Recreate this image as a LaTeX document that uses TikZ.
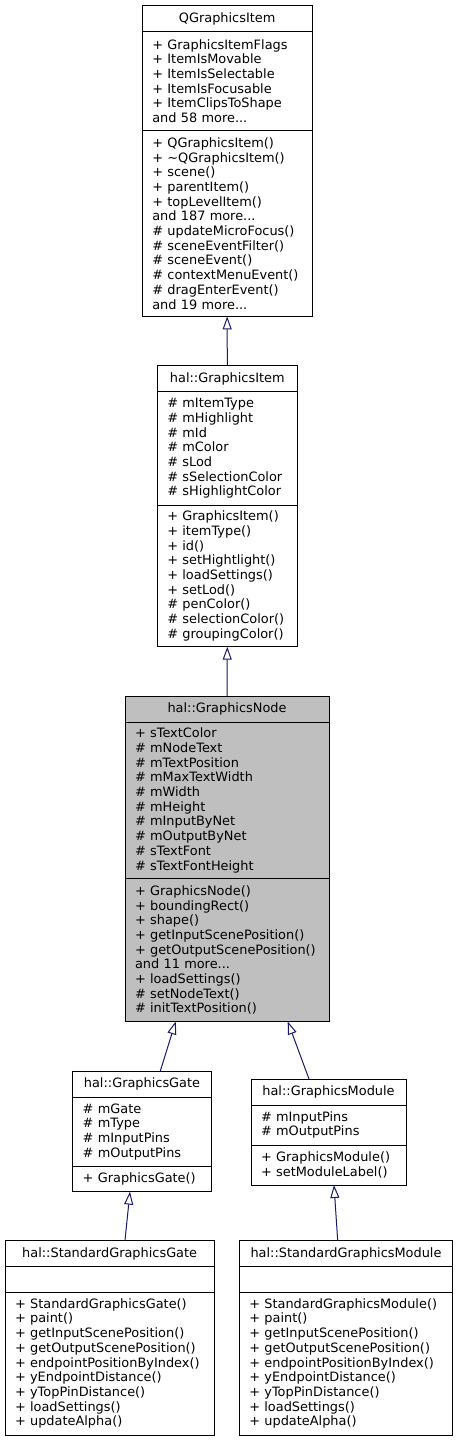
\documentclass[tikz,border=0pt]{standalone}
\usepackage{fontspec}
\setmainfont{DejaVu Sans}
\usetikzlibrary{positioning,arrows.meta}
\definecolor{edgeblue}{RGB}{25,25,112}
\definecolor{curgray}{RGB}{191,191,191}
\newcommand\umlfont{\fontsize{12.9}{14.7}\selectfont\hyphenpenalty=10000\exhyphenpenalty=10000}
\begin{document}
\begin{tikzpicture}[x=1pt,y=-1pt,
  part/.style={draw=black,fill=white,line width=1pt,outer sep=0pt,inner xsep=10pt,inner ysep=0pt,
    align=left,font=\umlfont,text width=#1},
  titlebox/.style={part=#1,align=center,minimum height=26pt,anchor=north west},
  inherit/.style={draw=edgeblue,line width=1pt,-{Triangle[open,length=13pt,width=9pt]}}]
\useasboundingbox (0,0) rectangle (458,1440);
% QGraphicsItem
\node[titlebox=149.7] (qgitem-t) at (142.3,5.7) {QGraphicsItem};
\node[part=149.7,minimum height=98.7pt,below=0pt of qgitem-t] (qgitem-a) {+ GraphicsItemFlags\\+ ItemIsMovable\\+ ItemIsSelectable\\+ ItemIsFocusable\\+ ItemClipsToShape\\and 58 more...};
\node[part=149.7,minimum height=186pt,below=0pt of qgitem-a] (qgitem-o) {+ QGraphicsItem()\\+ \textasciitilde QGraphicsItem()\\+ scene()\\+ parentItem()\\+ topLevelItem()\\and 187 more...\\\# updateMicroFocus()\\\# sceneEventFilter()\\\# sceneEvent()\\\# contextMenuEvent()\\\# dragEnterEvent()\\and 19 more...};
% hal::GraphicsItem
\node[titlebox=120] (gitem-t) at (157.3,365.7) {hal::GraphicsItem};
\node[part=120,minimum height=113.3pt,below=0pt of gitem-t] (gitem-a) {\# mItemType\\\# mHighlight\\\# mId\\\# mColor\\\# sLod\\\# sSelectionColor\\\# sHighlightColor};
\node[part=120,minimum height=141.7pt,below=0pt of gitem-a] (gitem-o) {+ GraphicsItem()\\+ itemType()\\+ id()\\+ setHightlight()\\+ loadSettings()\\+ setLod()\\\# penColor()\\\# selectionColor()\\\# groupingColor()};
% hal::GraphicsNode (current class)
\node[titlebox=184,fill=curgray] (gnode-t) at (125,696) {hal::GraphicsNode};
\node[part=184,fill=curgray,minimum height=156.7pt,below=0pt of gnode-t] (gnode-a) {+ sTextColor\\\# mNodeText\\\# mTextPosition\\\# mMaxTextWidth\\\# mWidth\\\# mHeight\\\# mInputByNet\\\# mOutputByNet\\\# sTextFont\\\# sTextFontHeight};
\node[part=184,fill=curgray,minimum height=142.7pt,below=0pt of gnode-a] (gnode-o) {+ GraphicsNode()\\+ boundingRect()\\+ shape()\\+ getInputScenePosition()\\+ getOutputScenePosition()\\and 11 more...\\+ loadSettings()\\\# setNodeText()\\\# initTextPosition()};
% hal::GraphicsGate
\node[titlebox=118.6] (ggate-t) at (72.7,1071) {hal::GraphicsGate};
\node[part=118.6,minimum height=69.3pt,below=0pt of ggate-t] (ggate-a) {\# mGate\\\# mType\\\# mInputPins\\\# mOutputPins};
\node[part=118.6,minimum height=25.3pt,below=0pt of ggate-a] (ggate-o) {+ GraphicsGate()};
% hal::GraphicsModule
\node[titlebox=135] (gmodule-t) at (251,1079) {hal::GraphicsModule};
\node[part=135,minimum height=40pt,below=0pt of gmodule-t] (gmodule-a) {\# mInputPins\\\# mOutputPins};
\node[part=135,minimum height=40pt,below=0pt of gmodule-a] (gmodule-o) {+ GraphicsModule()\\+ setModuleLabel()};
% hal::StandardGraphicsGate
\node[titlebox=189.3] (sgate-t) at (5,1240.7) {hal::StandardGraphicsGate};
\node[part=189.3,minimum height=25.3pt,below=0pt of sgate-t] (sgate-a) {};
\node[part=189.3,minimum height=143pt,below=0pt of sgate-a] (sgate-o) {+ StandardGraphicsGate()\\+ paint()\\+ getInputScenePosition()\\+ getOutputScenePosition()\\+ endpointPositionByIndex()\\+ yEndpointDistance()\\+ yTopPinDistance()\\+ loadSettings()\\+ updateAlpha()};
% hal::StandardGraphicsModule
\node[titlebox=193.4] (smodule-t) at (239.3,1240.7) {hal::StandardGraphicsModule};
\node[part=193.4,minimum height=25.3pt,below=0pt of smodule-t] (smodule-a) {};
\node[part=193.4,minimum height=143pt,below=0pt of smodule-a] (smodule-o) {+ StandardGraphicsModule()\\+ paint()\\+ getInputScenePosition()\\+ getOutputScenePosition()\\+ endpointPositionByIndex()\\+ yEndpointDistance()\\+ yTopPinDistance()\\+ loadSettings()\\+ updateAlpha()};
% inheritance
\draw[inherit] (gitem-t.north) -- (qgitem-o.south);
\draw[inherit] (gnode-t.north) -- (gitem-o.south);
\draw[inherit] ([xshift=18.3pt]ggate-t.north) -- ([xshift=-51.3pt]gnode-o.south);
\draw[inherit] ([xshift=-19.5pt]gmodule-t.north) -- ([xshift=60.7pt]gnode-o.south);
\draw[inherit] ([xshift=15.3pt]sgate-t.north) -- ([xshift=-12pt]ggate-o.south);
\draw[inherit] ([xshift=-8.3pt]smodule-t.north) -- ([xshift=5.5pt]gmodule-o.south);
\end{tikzpicture}
\end{document}
